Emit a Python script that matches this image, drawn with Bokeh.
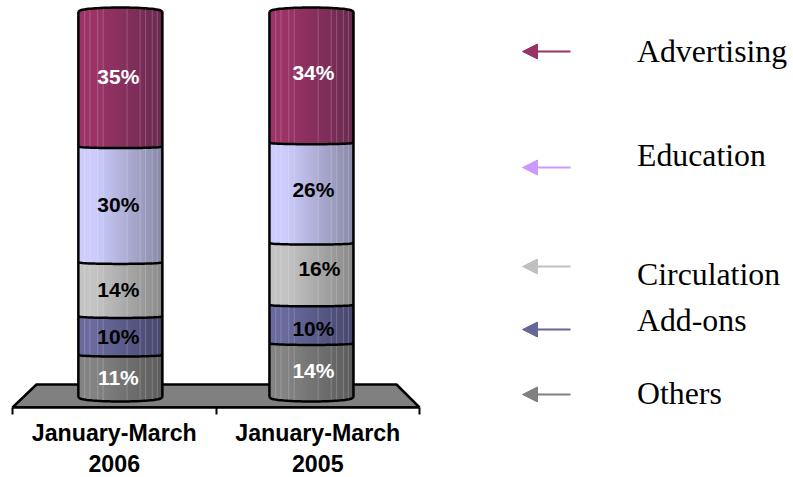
from bokeh.plotting import figure
from bokeh.models import Range1d, FixedTicker, Arrow, NormalHead
from bokeh.core.properties import value
from bokeh.embed import file_html
from bokeh.resources import INLINE
import numpy as np

categories = ["January-March\n2006", "January-March\n2005"]
series = ["Others", "Add-ons", "Circulation", "Education", "Advertising"]
values_2006 = [11, 10, 14, 30, 35]
values_2005 = [14, 10, 16, 26, 34]
legend_order = ["Advertising", "Education", "Circulation", "Add-ons", "Others"]
legend_colors = ["#993366", "#cc99ff", "#c0c0c0", "#666699", "#808080"]
left_colors = ["#848484", "#6a6a9e", "#c4c4c4", "#cccdfc", "#9c3468"]
right_colors = ["#5c5c5c", "#47476e", "#8a8a8a", "#8a8aa8", "#6a2a50"]
label_colors = ["white", "black", "black", "black", "white"]

PX_PER_X = 203.5
PX_PER_Y = 3.86
def xp(px): return (px - 12) / PX_PER_X
def yp(py): return (397 - py) / PX_PER_Y

p = figure(width=793, height=477, output_backend="svg", toolbar_location=None,
           x_range=Range1d(xp(0), xp(793)), y_range=Range1d(yp(407), yp(0)),
           min_border_left=0, min_border_right=0, min_border_top=0, min_border_bottom=70,
           frame_width=793, frame_height=407)
p.outline_line_color = None
p.grid.visible = False
p.yaxis.visible = False
ax = p.xaxis[0]
ax.bounds = (0, 2)
ax.ticker = FixedTicker(ticks=[0.5, 1.5], minor_ticks=[0, 1, 2])
ax.major_label_overrides = {0.5: categories[0], 1.5: categories[1]}
ax.major_tick_line_color = None
ax.minor_tick_out = 7
ax.minor_tick_in = 0
ax.minor_tick_line_color = "black"
ax.minor_tick_line_width = 2
ax.axis_line_color = "black"
ax.axis_line_width = 2.5
ax.major_label_standoff = 5
ax.major_label_text_font = "Liberation Sans"
ax.major_label_text_font_style = "bold"
ax.major_label_text_font_size = "23.2px"
ax.major_label_text_color = "black"
ax.major_label_text_line_height = 1.2

# floor of the 3-D chart
p.patch([xp(12), xp(36), xp(396), xp(419)], [yp(407), yp(384), yp(384), yp(407)],
        fill_color="#808080", line_color="black", line_width=2.5)

half = 42 / PX_PER_X
rise = 1.5 / PX_PER_Y
end_rise = 4 / PX_PER_Y
highlights = [.075, .137, .23, .295, .58, .735, .80, .88, .94]
n = 42
edges = np.linspace(-1, 1, n + 1)
centres = (edges[:-1] + edges[1:]) / 2
arc_x = np.linspace(-1, 1, 41)

def mix(a, b, t):
    ca = [int(a[i:i+2], 16) for i in (1, 3, 5)]
    cb = [int(b[i:i+2], 16) for i in (1, 3, 5)]
    return "#%02x%02x%02x" % tuple(int(u + (v - u) * t) for u, v in zip(ca, cb))

# (bar values, centre, label shift right in px, label shift down in px)
bars = [
    (values_2006, 0.53, [-2, -2, -2, -2, -2], [1, 0.5, 0, 0, -3]),
    (values_2005, 1.469, [2, 2, 8, 2, 2], [0, 4, -5, -3, -5]),
]
for vals, cx, dx_px, dy_px in bars:
    bottoms = np.cumsum([0] + vals[:-1])
    tops = np.cumsum(vals)
    for i, (b, t) in enumerate(zip(bottoms, tops)):
        bot_r = end_rise if i == 0 else rise
        top_r = end_rise if i == len(vals) - 1 else -rise
        prof = np.sqrt(np.clip(1 - centres ** 2, 0, 1))
        shade = np.clip(((centres + 1) / 2 - .2) / .8, 0, 1)
        p.quad(left=cx + edges[:-1] * half, right=cx + edges[1:] * half + 0.004,
               bottom=b - bot_r * prof, top=t + top_r * prof,
               fill_color=[mix(left_colors[i], right_colors[i], s) for s in shade],
               line_color=None)
        hx = np.array(highlights) * 2 - 1
        hp = np.sqrt(1 - hx ** 2)
        p.segment(cx + hx * half, b - bot_r * hp, cx + hx * half, t + top_r * hp,
                  line_color="white", line_alpha=0.2, line_width=1)
    for i, t in enumerate(tops):
        r = end_rise if i == len(vals) - 1 else -rise
        p.line(cx + arc_x * half, t + r * np.sqrt(1 - arc_x ** 2), line_color="black", line_width=2.5)
    p.line(cx + arc_x * half, -end_rise * np.sqrt(1 - arc_x ** 2), line_color="black", line_width=2.5)
    p.segment([cx - half, cx + half], [0, 0], [cx - half, cx + half], [tops[-1], tops[-1]],
              line_color="black", line_width=2.5)
    mids = bottoms + np.array(vals) / 2
    p.text(x=[cx + d / PX_PER_X for d in dx_px], y=[m - d / PX_PER_Y for m, d in zip(mids, dy_px)],
           text=[f"{v}%" for v in vals], text_color=label_colors,
           text_font=value("Liberation Sans"), text_font_style="bold", text_font_size="21px",
           text_align="center", text_baseline="middle")

# legend, placed by hand as in the original
arrow_y = [51, 167, 266, 329, 394]
text_base = [51, 155, 274, 320, 393]
for name, col, ay, ty in zip(legend_order, legend_colors, arrow_y, text_base):
    p.add_layout(Arrow(end=NormalHead(size=15, fill_color=col, line_color=col, line_width=1),
                       x_start=xp(570), y_start=yp(ay), x_end=xp(522), y_end=yp(ay),
                       line_color=col, line_width=2))
    p.text(x=[xp(636.5)], y=[yp(ty)], text=[name], text_color="black",
           text_font=value("Liberation Serif"), text_font_size="31.8px",
           text_align="left", text_baseline="alphabetic")

open("out.html", "w").write(file_html(p, INLINE))
